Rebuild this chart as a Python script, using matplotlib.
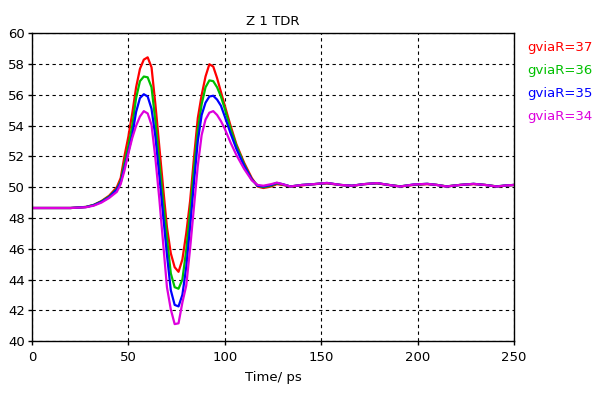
import matplotlib
matplotlib.use("Agg")
import matplotlib.pyplot as plt

# =====================================================
# Data
# =====================================================

time_ps = [0, 20, 28, 32, 36, 40, 44, 46, 48, 50, 52, 54, 56, 58, 60, 62, 64,
           66, 68, 70, 72, 74, 76, 78, 80, 82, 84, 86, 88, 90, 92, 94, 96, 98,
           100, 103, 106, 110, 114, 117, 120, 124, 127, 130, 134, 140, 146,
           153, 160, 166, 172, 179, 185, 191, 198, 205, 210, 215, 222, 229,
           235, 241, 246, 250]

z_37 = [48.65, 48.65, 48.72, 48.85, 49.1, 49.45, 50.0, 50.6, 52.05, 53.3,
        54.8, 56.5, 57.7, 58.3, 58.45, 57.8, 55.4, 52.7, 50.0, 47.4, 45.7,
        44.8, 44.5, 45.3, 47.0, 49.1, 51.9, 54.5, 56.0, 57.2, 58.0, 57.85,
        57.1, 56.2, 55.3, 54.0, 52.8, 51.6, 50.6, 50.05, 49.95, 50.05, 50.2,
        50.15, 50.05, 50.12, 50.2, 50.25, 50.15, 50.08, 50.2, 50.25, 50.15,
        50.05, 50.15, 50.2, 50.15, 50.05, 50.15, 50.2, 50.15, 50.05, 50.1,
        50.15]

z_36 = [48.65, 48.65, 48.72, 48.85, 49.08, 49.4, 49.9, 50.4, 51.6, 52.7,
        54.0, 55.8, 56.9, 57.2, 57.15, 56.5, 54.3, 51.7, 49.1, 46.7, 44.4,
        43.5, 43.4, 44.0, 45.9, 48.4, 51.2, 53.7, 55.4, 56.5, 56.95, 56.9,
        56.5, 55.9, 55.1, 53.8, 52.7, 51.5, 50.5, 50.1, 50.0, 50.1, 50.25,
        50.18, 50.05, 50.15, 50.2, 50.27, 50.15, 50.1, 50.2, 50.26, 50.15,
        50.06, 50.17, 50.22, 50.15, 50.06, 50.15, 50.22, 50.15, 50.06, 50.12,
        50.15]

z_35 = [48.65, 48.65, 48.71, 48.83, 49.05, 49.35, 49.85, 50.3, 51.3, 52.3,
        53.4, 54.9, 55.8, 56.05, 55.9, 55.1, 53.3, 50.8, 48.2, 45.6, 43.3,
        42.35, 42.25, 43.0, 44.8, 47.4, 50.3, 53.0, 54.7, 55.5, 55.9, 55.95,
        55.7, 55.3, 54.6, 53.5, 52.5, 51.4, 50.5, 50.1, 50.05, 50.15, 50.28,
        50.2, 50.05, 50.15, 50.2, 50.28, 50.15, 50.1, 50.2, 50.27, 50.15,
        50.05, 50.18, 50.22, 50.15, 50.05, 50.15, 50.22, 50.15, 50.05, 50.12,
        50.15]

z_34 = [48.65, 48.65, 48.7, 48.8, 49.0, 49.3, 49.7, 50.2, 51.1, 52.2, 53.2,
        54.0, 54.6, 54.95, 54.8, 54.05, 51.9, 49.3, 46.4, 43.5, 42.05, 41.1,
        41.15, 42.5, 43.6, 46.0, 48.7, 51.4, 53.4, 54.4, 54.85, 54.95, 54.7,
        54.3, 53.8, 52.9, 52.1, 51.2, 50.45, 50.15, 50.1, 50.2, 50.3, 50.2,
        50.05, 50.15, 50.2, 50.28, 50.15, 50.1, 50.2, 50.27, 50.15, 50.05,
        50.18, 50.22, 50.15, 50.05, 50.15, 50.22, 50.15, 50.05, 50.12, 50.15]

series = [z_37, z_36, z_35, z_34]
labels = ["gviaR=37", "gviaR=36", "gviaR=35", "gviaR=34"]
colors = ["#ff0000", "#00c000", "#0000ff", "#dd00dd"]

x_ticks = [0, 50, 100, 150, 200, 250]
y_ticks = [40, 42, 44, 46, 48, 50, 52, 54, 56, 58, 60]

# =====================================================
# Plot
# =====================================================

plt.rcParams["font.family"] = ["DejaVu Sans"]

fig = plt.figure(figsize=(6, 3.93), dpi=100)
ax = fig.add_axes([0.0533, 0.1323, 0.8034, 0.7825])

for values, color in zip(series, colors):
    ax.plot(time_ps, values, color=color, linewidth=1.6)

ax.set_xlim(0, 250)
ax.set_ylim(40, 60)
ax.set_xticks(x_ticks)
ax.set_yticks(y_ticks)

ax.grid(True, color="black", linestyle=(0, (3, 3)), linewidth=0.8)
ax.set_axisbelow(True)

for spine in ax.spines.values():
    spine.set_linewidth(1.0)
    spine.set_color("black")

ax.tick_params(direction="out", length=3, width=1, labelsize=9.5)
ax.tick_params(axis="x", pad=4)
ax.tick_params(axis="y", pad=2)

ax.set_title("Z 1 TDR", fontsize=9.5, pad=6)
ax.set_xlabel("Time/ ps", fontsize=9.5, labelpad=5)

# coloured legend text on the right
for i, (label, color) in enumerate(zip(labels, colors)):
    fig.text(0.878, 0.880 - i * 0.0585, label, color=color,
             fontsize=9.5, ha="left", va="center")

fig.savefig("out.png", dpi=100)
